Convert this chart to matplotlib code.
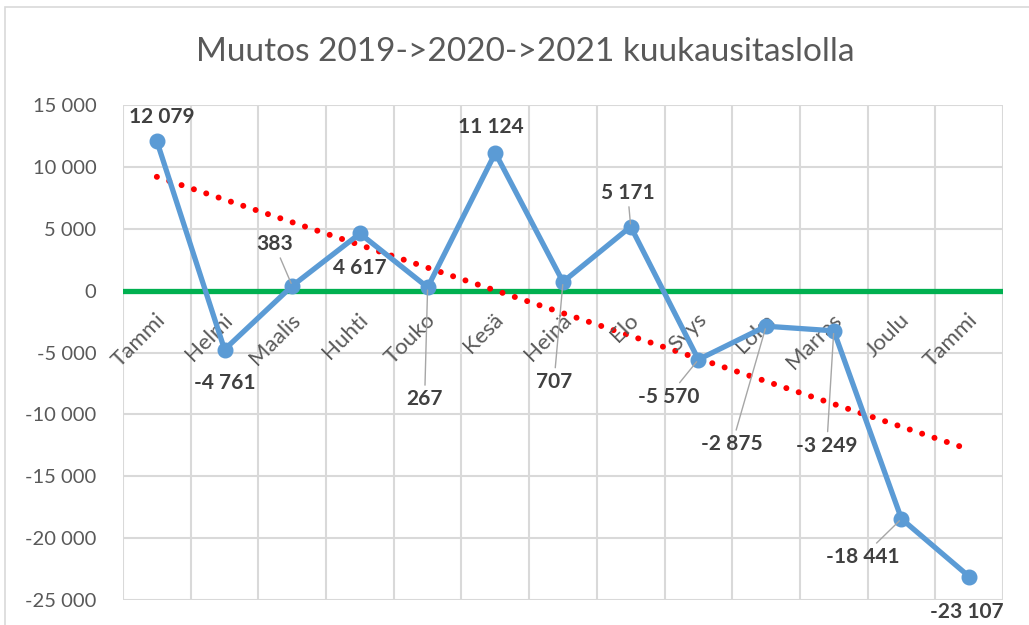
import matplotlib
matplotlib.use("Agg")
import matplotlib.pyplot as plt
from matplotlib.patches import Rectangle
import numpy as np

plt.rcParams.update({
    "font.family": ["Lato", "DejaVu Sans"],
    "figure.dpi": 100, "savefig.dpi": 100,
})

TITLE = "Muutos 2019->2020->2021 kuukausitaslolla"
MONTHS = ["Tammi", "Helmi", "Maalis", "Huhti", "Touko", "Kesä", "Heinä",
          "Elo", "Syys", "Loka", "Marras", "Joulu", "Tammi"]
CHANGE = [12079, -4761, 383, 4617, 267, 11124, 707, 5171, -5570, -2875,
          -3249, -18441, -23107]
Y_TICKS = [-25000, -20000, -15000, -10000, -5000, 0, 5000, 10000, 15000]

# label placement, offset in pixels from the point, and whether a leader line shows
LABEL_OFFSETS = [(5, 24), (0, -33), (-18, 42), (0, -35), (-3, -112), (-4, 26),
                 (-9, -100), (-3, 34), (-30, -37), (-34, -118), (-7, -115),
                 (-39, -38), (-2, -35)]
LEADERS = [False, False, True, False, True, False, True, True, True, True,
           True, True, False]

BLUE = "#5B9BD5"
GREEN = "#00B050"
GRID = "#D9D9D9"
TEXT = "#595959"
LABEL = "#404040"


def fmt(v):
    return f"{v:,}".replace(",", " ")


fig = plt.figure(figsize=(10.29, 6.25))
ax = fig.add_axes([123 / 1029, 1 - 600 / 625, 880 / 1029, 495 / 625])

x = np.arange(len(CHANGE))

# gridlines between categories, like Excel
for b in np.arange(-0.5, len(CHANGE), 1.0):
    ax.axvline(b, color=GRID, lw=1.5, zorder=0)
for t in Y_TICKS:
    ax.axhline(t, color=GRID, lw=1.5, zorder=0)

ax.axhline(0, color=GREEN, lw=3.8, zorder=1)

# linear trend line
k, b0 = np.polyfit(x, CHANGE, 1)
ax.plot(x, k * x + b0, color="red", lw=4.3, linestyle=(0, (0.01, 2.17)),
        dash_capstyle="round", zorder=2)

ax.plot(x, CHANGE, color=BLUE, lw=3.8, marker="o", markersize=10.5,
        zorder=3)

for i, v in enumerate(CHANGE):
    dx, dy = LABEL_OFFSETS[i]
    arrow = None
    if LEADERS[i]:
        arrow = dict(arrowstyle="-", color="#A6A6A6", lw=1, shrinkA=1, shrinkB=2)
    ax.annotate(fmt(v), xy=(i, v), xytext=(dx, dy), textcoords="offset pixels",
                ha="center", va="center", fontsize=15, fontweight="bold",
                color=LABEL, arrowprops=arrow, zorder=4)

# category labels sit on the zero line, rotated
for i, m in enumerate(MONTHS):
    ax.annotate(m, xy=(i, 0), xytext=(-2, -19), textcoords="offset pixels",
                ha="right", va="top", rotation=45, rotation_mode="anchor",
                fontsize=16, color=TEXT, zorder=2)

ax.set_xlim(-0.5, len(CHANGE) - 0.5)
ax.set_ylim(Y_TICKS[0], Y_TICKS[-1])
ax.set_xticks([])
ax.set_yticks(Y_TICKS)
ax.set_yticklabels([fmt(t) for t in Y_TICKS], fontsize=14.5, color=TEXT)
ax.tick_params(axis="y", length=0, pad=19)
for s in ax.spines.values():
    s.set_visible(False)

fig.text(0.51, 1 - 52 / 625, TITLE, ha="center", va="center", fontsize=24,
         color=TEXT)

fig.patches.append(Rectangle((5 / 1029, -0.05), 1.2, 1 - 7 / 625 + 0.05,
                             transform=fig.transFigure, fill=False,
                             edgecolor=GRID, lw=1.2))

fig.savefig("out.png")
